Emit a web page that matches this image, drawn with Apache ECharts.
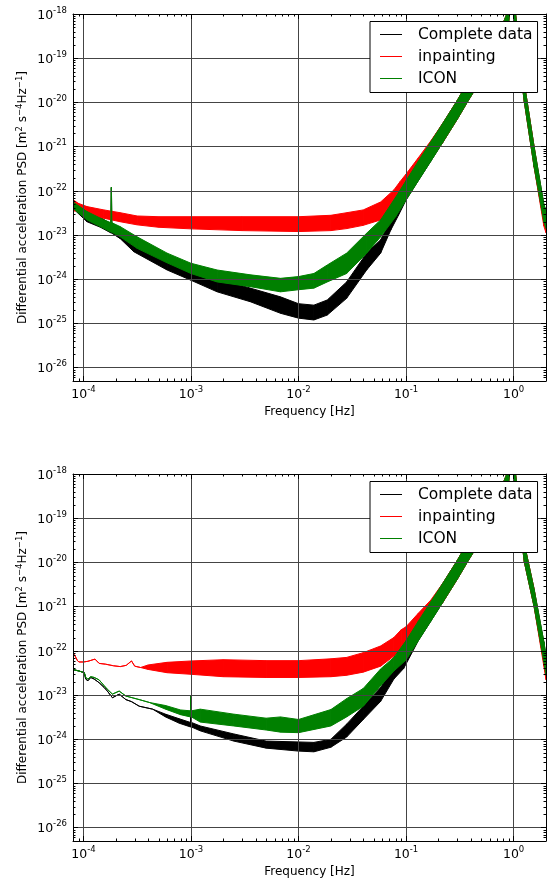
<!DOCTYPE html>
<html>
<head>
<meta charset="utf-8">
<script src="https://cdn.jsdelivr.net/npm/echarts@6/dist/echarts.min.js"></script>
<style>
html,body{margin:0;padding:0;background:#ffffff;}
#chart{width:547px;height:881px;}
</style>
</head>
<body>
<div id="chart"></div>
<script>
// ---------- labels and ticks ----------
const seriesNames = ['Complete data', 'inpainting', 'ICON'];
const seriesColors = ['#000000', '#ff0000', '#008000'];
const xTickValues = [1e-4, 1e-3, 1e-2, 1e-1, 1];
const xTickExponents = ['-4', '-3', '-2', '-1', '0'];
const yTickValues = [1e-26, 1e-25, 1e-24, 1e-23, 1e-22, 1e-21, 1e-20, 1e-19, 1e-18];
const yTickExponents = ['-26', '-25', '-24', '-23', '-22', '-21', '-20', '-19', '-18'];
const xMinorTickValues = [9e-5,
  2e-4, 3e-4, 4e-4, 5e-4, 6e-4, 7e-4, 8e-4, 9e-4,
  2e-3, 3e-3, 4e-3, 5e-3, 6e-3, 7e-3, 8e-3, 9e-3,
  2e-2, 3e-2, 4e-2, 5e-2, 6e-2, 7e-2, 8e-2, 9e-2,
  0.2, 0.3, 0.4, 0.5, 0.6, 0.7, 0.8, 0.9];
const yMinorTickValues = [6e-27, 7e-27, 8e-27, 9e-27,
  2e-26, 3e-26, 4e-26, 5e-26, 6e-26, 7e-26, 8e-26, 9e-26,
  2e-25, 3e-25, 4e-25, 5e-25, 6e-25, 7e-25, 8e-25, 9e-25,
  2e-24, 3e-24, 4e-24, 5e-24, 6e-24, 7e-24, 8e-24, 9e-24,
  2e-23, 3e-23, 4e-23, 5e-23, 6e-23, 7e-23, 8e-23, 9e-23,
  2e-22, 3e-22, 4e-22, 5e-22, 6e-22, 7e-22, 8e-22, 9e-22,
  2e-21, 3e-21, 4e-21, 5e-21, 6e-21, 7e-21, 8e-21, 9e-21,
  2e-20, 3e-20, 4e-20, 5e-20, 6e-20, 7e-20, 8e-20, 9e-20,
  2e-19, 3e-19, 4e-19, 5e-19, 6e-19, 7e-19, 8e-19, 9e-19];
const xAxisTitle = 'Frequency [Hz]';
// y title: plain parts and superscript parts, rendered as rich text
const yAxisTitle = '{n|Differential acceleration PSD [m}{s|2}{n| s}{s|−4}{n|Hz}{s|−1}{n|]}';

// ---------- shared resonance peak (all three curves coincide) ----------
const peakFreq = [0.22, 0.3, 0.37, 0.5, 0.65, 0.8, 0.88, 0.94, 0.98, 1.03, 1.26];
const peakLo   = [1.26e-21, 4.2e-21, 1.0e-20, 3.3e-20, 1.0e-19, 2.3e-19, 4.2e-19, 1.6e-18, 1.8e-18, 5.0e-19, 1.0e-20];
const peakHi   = [3.4e-21, 1.12e-20, 2.75e-20, 8.9e-20, 2.6e-19, 6.3e-19, 1.12e-18, 4.0e-18, 4.5e-18, 1.26e-18, 2.6e-20];

// ---------- top panel ----------
const topCompleteFreq = [8.0e-5, 1.08e-4, 1.44e-4, 1.80e-4, 1.82e-4, 1.84e-4, 2.2e-4, 2.94e-4, 6e-4, 1e-3, 1.75e-3, 3.57e-3, 6.8e-3, 1e-2, 1.39e-2, 1.85e-2, 2.8e-2, 4.3e-2, 5.8e-2, 7.2e-2, 8.5e-2, 0.1, 0.13, 0.17];
const topCompleteLo   = [4.0e-23, 2.0e-23, 1.5e-23, 1.12e-23, 1.12e-23, 1.1e-23, 8.3e-24, 4.2e-24, 1.62e-24, 9.5e-25, 5.2e-25, 3.1e-25, 1.7e-25, 1.32e-25, 1.2e-25, 1.55e-25, 3.7e-25, 1.62e-24, 3.9e-24, 1.29e-23, 2.8e-23, 6.2e-23, 1.7e-22, 4.7e-22];
const topCompleteHi   = [5.6e-23, 3.2e-23, 2.5e-23, 1.8e-23, 1.2e-22, 1.8e-23, 1.48e-23, 7.9e-24, 2.7e-24, 1.62e-24, 1.05e-24, 6.3e-25, 4.0e-25, 2.8e-25, 2.6e-25, 3.4e-25, 8.7e-25, 3.9e-24, 7.8e-24, 2.2e-23, 6.3e-23, 1.7e-22, 4.7e-22, 1.29e-21];

const topInpaintFreq = [8.0e-5, 9e-5, 1.08e-4, 1.55e-4, 2.2e-4, 3.16e-4, 5e-4, 1e-3, 3e-3, 1e-2, 2e-2, 2.8e-2, 4e-2, 5.8e-2, 7.7e-2, 8.8e-2, 0.1, 0.13, 0.17];
const topInpaintLo   = [3.5e-23, 3.5e-23, 2.8e-23, 2.4e-23, 2.0e-23, 1.7e-23, 1.5e-23, 1.38e-23, 1.26e-23, 1.2e-23, 1.26e-23, 1.4e-23, 1.66e-23, 2.2e-23, 4.0e-23, 6.3e-23, 8.9e-23, 2.2e-22, 5.0e-22];
const topInpaintHi   = [6.3e-23, 5.2e-23, 4.4e-23, 3.7e-23, 3.2e-23, 2.7e-23, 2.6e-23, 2.6e-23, 2.6e-23, 2.6e-23, 2.8e-23, 3.2e-23, 3.7e-23, 5.6e-23, 1.05e-22, 1.62e-22, 2.4e-22, 5.6e-22, 1.35e-21];

const topIconFreq = [8.0e-5, 1.08e-4, 1.55e-4, 1.80e-4, 1.82e-4, 1.84e-4, 2.2e-4, 3.16e-4, 6e-4, 1e-3, 1.75e-3, 3.57e-3, 6.8e-3, 1e-2, 1.39e-2, 1.85e-2, 2.8e-2, 4.3e-2, 5.8e-2, 8e-2, 0.1, 0.13, 0.17];
const topIconLo   = [4.0e-23, 2.2e-23, 1.41e-23, 1.17e-23, 1.17e-23, 1.15e-23, 9.1e-24, 5.0e-24, 2.35e-24, 1.35e-24, 8.7e-25, 6.8e-25, 5.2e-25, 5.8e-25, 6.3e-25, 8.7e-25, 1.35e-24, 3.9e-24, 9.1e-24, 2.6e-23, 6.2e-23, 1.7e-22, 4.7e-22];
const topIconHi   = [5.6e-23, 3.4e-23, 2.2e-23, 1.9e-23, 1.2e-22, 1.9e-23, 1.55e-23, 9.1e-24, 3.9e-24, 2.3e-24, 1.62e-24, 1.26e-24, 1.05e-24, 1.15e-24, 1.35e-24, 2.1e-24, 3.9e-24, 1.1e-23, 2.2e-23, 7.2e-23, 1.7e-22, 4.7e-22, 1.29e-21];

const topTailFreq       = [1.55, 1.91, 2.0];
const topTailLo         = [3.5e-22, 2.0e-23, 1.4e-23];
const topTailHi         = [1.0e-21, 5.0e-23, 3.5e-23];
const topInpaintTailLo  = [3.5e-22, 1.6e-23, 1.12e-23];
const topInpaintTailHi  = [1.0e-21, 4.0e-23, 2.8e-23];

// ---------- bottom panel ----------
const botCompleteFreq = [7.9e-5, 9.1e-5, 1.02e-4, 1.05e-4, 1.1e-4, 1.17e-4, 1.26e-4, 1.4e-4, 1.56e-4, 1.67e-4, 1.86e-4, 2.15e-4, 2.48e-4, 2.8e-4, 3.3e-4, 4.4e-4, 5.8e-4, 7.8e-4, 9.9e-4, 1.0e-3, 1.01e-3, 1.22e-3, 2.5e-3, 5e-3, 1e-2, 1.39e-2, 2e-2, 2.8e-2, 4e-2, 5.8e-2, 7.7e-2, 9.5e-2, 0.13, 0.17];
const botCompleteLo   = [3.8e-23, 3.5e-23, 3.2e-23, 2.3e-23, 2.1e-23, 2.5e-23, 2.3e-23, 1.9e-23, 1.48e-23, 1.23e-23, 8.7e-24, 1.05e-23, 7.9e-24, 7.1e-24, 5.6e-24, 4.8e-24, 3.2e-24, 2.3e-24, 1.9e-24, 1.9e-24, 1.9e-24, 1.55e-24, 9.1e-25, 6.3e-25, 5.4e-25, 5.2e-25, 6.6e-25, 1.12e-24, 2.8e-24, 7.2e-24, 2.3e-23, 4.0e-23, 1.7e-22, 4.7e-22];
const botCompleteHi   = [3.8e-23, 3.5e-23, 3.2e-23, 2.3e-23, 2.1e-23, 2.5e-23, 2.3e-23, 1.9e-23, 1.48e-23, 1.23e-23, 8.7e-24, 1.05e-23, 7.9e-24, 7.1e-24, 5.6e-24, 4.8e-24, 3.7e-24, 2.9e-24, 2.4e-24, 1.0e-23, 2.4e-24, 2.0e-24, 1.32e-24, 9.1e-25, 8.7e-25, 8.5e-25, 1.0e-24, 2.2e-24, 5.6e-24, 1.48e-23, 4.3e-23, 8.9e-23, 4.7e-22, 1.29e-21];

const botInpaintFreq = [7.9e-5, 8.3e-5, 8.8e-5, 9.1e-5, 1.0e-4, 1.1e-4, 1.28e-4, 1.4e-4, 1.6e-4, 1.9e-4, 2.2e-4, 2.5e-4, 2.8e-4, 3.0e-4, 3.4e-4, 4e-4, 6e-4, 1e-3, 2e-3, 5e-3, 1e-2, 2e-2, 2.8e-2, 4e-2, 5.8e-2, 7.7e-2, 9e-2, 0.1, 0.13, 0.17];
const botInpaintLo   = [9.1e-23, 7.9e-23, 6.0e-23, 5.6e-23, 5.6e-23, 5.8e-23, 6.5e-23, 5.2e-23, 5.0e-23, 4.6e-23, 4.4e-23, 4.7e-23, 5.9e-23, 4.5e-23, 4.2e-23, 3.8e-23, 3.2e-23, 2.95e-23, 2.6e-23, 2.5e-23, 2.5e-23, 2.6e-23, 2.8e-23, 3.3e-23, 4.5e-23, 7.6e-23, 1.12e-22, 1.32e-22, 2.8e-22, 5.6e-22];
const botInpaintHi   = [9.1e-23, 7.9e-23, 6.0e-23, 5.6e-23, 5.6e-23, 5.8e-23, 6.5e-23, 5.2e-23, 5.0e-23, 4.6e-23, 4.4e-23, 4.7e-23, 5.9e-23, 4.5e-23, 4.2e-23, 4.8e-23, 5.5e-23, 5.9e-23, 6.3e-23, 6.0e-23, 6.0e-23, 6.6e-23, 7.1e-23, 9.1e-23, 1.29e-22, 2.0e-22, 3.0e-22, 3.5e-22, 7.1e-22, 1.41e-21];

const botIconFreq = [7.9e-5, 9.1e-5, 1.02e-4, 1.05e-4, 1.1e-4, 1.17e-4, 1.26e-4, 1.4e-4, 1.56e-4, 1.67e-4, 1.86e-4, 2.15e-4, 2.48e-4, 3.3e-4, 4.1e-4, 5.8e-4, 8e-4, 9.9e-4, 1.0e-3, 1.01e-3, 1.22e-3, 2.5e-3, 5e-3, 6.8e-3, 1e-2, 2e-2, 2.8e-2, 4e-2, 5.8e-2, 7.7e-2, 0.1, 0.13, 0.17];
const botIconLo   = [3.8e-23, 3.5e-23, 3.2e-23, 2.5e-23, 2.3e-23, 2.6e-23, 2.5e-23, 2.2e-23, 1.62e-23, 1.35e-23, 1.05e-23, 1.23e-23, 9.5e-24, 7.9e-24, 6.8e-24, 4.8e-24, 3.6e-24, 3.2e-24, 3.2e-24, 3.2e-24, 2.45e-24, 2.0e-24, 1.62e-24, 1.45e-24, 1.41e-24, 2.0e-24, 3.2e-24, 5.6e-24, 1.62e-23, 3.5e-23, 6.2e-23, 1.7e-22, 4.7e-22];
const botIconHi   = [3.8e-23, 3.5e-23, 3.2e-23, 2.5e-23, 2.3e-23, 2.6e-23, 2.5e-23, 2.2e-23, 1.62e-23, 1.35e-23, 1.05e-23, 1.23e-23, 9.5e-24, 7.9e-24, 6.8e-24, 5.8e-24, 4.6e-24, 4.4e-24, 1.0e-23, 4.4e-24, 4.8e-24, 3.7e-24, 3.0e-24, 3.2e-24, 2.8e-24, 4.7e-24, 8.3e-24, 1.41e-23, 3.9e-23, 7.1e-23, 1.7e-22, 4.7e-22, 1.29e-21];

const botTailFreq       = [1.55, 1.91, 2.0];
const botTailLo         = [1.0e-21, 5.6e-23, 2.8e-23];
const botTailHi         = [2.5e-21, 1.6e-22, 7.9e-23];
const botInpaintTailLo  = [1.0e-21, 4.5e-23, 2.2e-23];
const botInpaintTailHi  = [2.5e-21, 1.26e-22, 6.3e-23];

// ---------- build ----------
const FONT = 'DejaVu Sans';
const X_MIN = 8e-5, X_MAX = 2, Y_MIN = 5e-27, Y_MAX = 1e-18;

function tickLabel(values, exps) {
  return function (v) {
    const i = values.findIndex(t => Math.abs(Math.log10(t) - Math.log10(v)) < 1e-6);
    return i < 0 ? '' : '{b|10}{e|' + exps[i] + '}';
  };
}
const labelRich = {
  b: {fontSize: 12.5, fontFamily: FONT, color: '#000', lineHeight: 16, verticalAlign: 'bottom'},
  e: {fontSize: 8.5, fontFamily: FONT, color: '#000', lineHeight: 10, verticalAlign: 'top'}
};
const nameRich = {
  n: {fontSize: 12, fontFamily: FONT, color: '#000', lineHeight: 14, verticalAlign: 'bottom'},
  s: {fontSize: 8.5, fontFamily: FONT, color: '#000', lineHeight: 8, verticalAlign: 'top'}
};

function band(name, color, panel, freq, lo, hi) {
  const data = [];
  for (let i = 0; i < freq.length - 1; i++) {
    data.push([freq[i], lo[i], hi[i], freq[i + 1], lo[i + 1], hi[i + 1]]);
  }
  return {
    type: 'custom', name: name, xAxisIndex: panel * 2, yAxisIndex: panel * 2,
    clip: true, z: 2, silent: true, animation: false,
    itemStyle: {color: color},
    encode: {x: 0, y: 1},
    data: data,
    renderItem: function (params, api) {
      const p1 = api.coord([api.value(0), api.value(2)]);
      const p2 = api.coord([api.value(3), api.value(5)]);
      const p3 = api.coord([api.value(3), api.value(4)]);
      const p4 = api.coord([api.value(0), api.value(1)]);
      return {
        type: 'polygon',
        shape: {points: [p1, p2, p3, p4]},
        style: {fill: color, stroke: color, lineWidth: 1, lineJoin: 'round'}
      };
    }
  };
}

// minor ticks (2..9 x each decade) drawn inward on all four sides of a panel
function minorTicks(panel) {
  return {
    type: 'custom', xAxisIndex: panel * 2, yAxisIndex: panel * 2,
    clip: false, z: 4, silent: true, animation: false,
    data: [[X_MIN, Y_MIN]],
    encode: {x: 0, y: 1},
    renderItem: function (params, api) {
      const cs = params.coordSys;
      const L = 2.5;
      const st = {stroke: '#000', lineWidth: 1};
      const kids = [];
      xMinorTickValues.forEach(function (v) {
        const x = Math.round(api.coord([v, Y_MAX])[0]) + 0.5;
        kids.push({type: 'line', shape: {x1: x, y1: cs.y + cs.height, x2: x, y2: cs.y + cs.height - L}, style: st});
        kids.push({type: 'line', shape: {x1: x, y1: cs.y, x2: x, y2: cs.y + L}, style: st});
      });
      yMinorTickValues.forEach(function (v) {
        const y = Math.round(api.coord([X_MIN, v])[1]) + 0.5;
        kids.push({type: 'line', shape: {x1: cs.x, y1: y, x2: cs.x + L, y2: y}, style: st});
        kids.push({type: 'line', shape: {x1: cs.x + cs.width, y1: y, x2: cs.x + cs.width - L, y2: y}, style: st});
      });
      return {type: 'group', children: kids};
    }
  };
}

function xAxisFor(panel, mirror) {
  return {
    gridIndex: panel, type: 'log', logBase: 10, min: X_MIN, max: X_MAX,
    position: mirror ? 'top' : 'bottom', z: 3,
    axisLine: {show: true, onZero: false, lineStyle: {color: '#000', width: 1}},
    axisTick: {show: true, inside: true, length: 5, lineStyle: {color: '#000', width: 1}},
    axisLabel: mirror ? {show: false} : {show: true, margin: 4, formatter: tickLabel(xTickValues, xTickExponents), rich: labelRich},
    splitLine: {show: !mirror, lineStyle: {color: '#444', width: 1, type: 'solid'}},
    minorTick: {show: false}, minorSplitLine: {show: false},
    name: mirror ? '' : xAxisTitle, nameLocation: 'middle', nameGap: 25, nameMoveOverlap: false,
    nameTextStyle: {fontFamily: FONT, fontSize: 12, color: '#000'}
  };
}
function yAxisFor(panel, mirror) {
  return {
    gridIndex: panel, type: 'log', logBase: 10, min: Y_MIN, max: Y_MAX,
    position: mirror ? 'right' : 'left', z: 3,
    axisLine: {show: true, onZero: false, lineStyle: {color: '#000', width: 1}},
    axisTick: {show: true, inside: true, length: 5, lineStyle: {color: '#000', width: 1}},
    axisLabel: mirror ? {show: false} : {show: true, margin: 6, formatter: tickLabel(yTickValues, yTickExponents), rich: labelRich},
    splitLine: {show: !mirror, lineStyle: {color: '#444', width: 1, type: 'solid'}},
    minorTick: {show: false}, minorSplitLine: {show: false},
    name: mirror ? '' : yAxisTitle, nameLocation: 'middle', nameGap: 44, nameMoveOverlap: false,
    nameTextStyle: {fontFamily: FONT, fontSize: 12, color: '#000', rich: nameRich}
  };
}
function legendFor(top) {
  return {
    left: 370, top: top, orient: 'vertical',
    backgroundColor: '#ffffff', borderColor: '#000000', borderWidth: 1, borderRadius: 0,
    padding: [5, 5, 6, 10], itemGap: 6, itemWidth: 22, itemHeight: 1,
    selectedMode: false, z: 10,
    textStyle: {fontFamily: FONT, fontSize: 15.5, color: '#000', lineHeight: 16, padding: [0, 0, 0, 11]},
    data: seriesNames.map(n => ({name: n, icon: 'rect'}))
  };
}

const series = [
  band(seriesNames[0], seriesColors[0], 0, topCompleteFreq.concat(peakFreq, topTailFreq), topCompleteLo.concat(peakLo, topTailLo), topCompleteHi.concat(peakHi, topTailHi)),
  band(seriesNames[1], seriesColors[1], 0, topInpaintFreq.concat(peakFreq, topTailFreq), topInpaintLo.concat(peakLo, topInpaintTailLo), topInpaintHi.concat(peakHi, topInpaintTailHi)),
  band(seriesNames[2], seriesColors[2], 0, topIconFreq.concat(peakFreq, topTailFreq), topIconLo.concat(peakLo, topTailLo), topIconHi.concat(peakHi, topTailHi)),
  band(seriesNames[0], seriesColors[0], 1, botCompleteFreq.concat(peakFreq, botTailFreq), botCompleteLo.concat(peakLo, botTailLo), botCompleteHi.concat(peakHi, botTailHi)),
  band(seriesNames[1], seriesColors[1], 1, botInpaintFreq.concat(peakFreq, botTailFreq), botInpaintLo.concat(peakLo, botInpaintTailLo), botInpaintHi.concat(peakHi, botInpaintTailHi)),
  band(seriesNames[2], seriesColors[2], 1, botIconFreq.concat(peakFreq, botTailFreq), botIconLo.concat(peakLo, botTailLo), botIconHi.concat(peakHi, botTailHi)),
  minorTicks(0),
  minorTicks(1)
];

const chart = echarts.init(document.getElementById('chart'), null, {renderer: 'canvas'});
chart.setOption({
  animation: false,
  backgroundColor: '#ffffff',
  color: seriesColors,
  textStyle: {fontFamily: FONT},
  grid: [
    {left: 73, top: 14, width: 473, height: 367, containLabel: false, outerBoundsMode: 'none'},
    {left: 73, top: 474, width: 473, height: 367, containLabel: false, outerBoundsMode: 'none'}
  ],
  legend: [legendFor(21.5), legendFor(481.5)],
  xAxis: [xAxisFor(0, false), xAxisFor(0, true), xAxisFor(1, false), xAxisFor(1, true)],
  yAxis: [yAxisFor(0, false), yAxisFor(0, true), yAxisFor(1, false), yAxisFor(1, true)],
  series: series
});
</script>
</body>
</html>
